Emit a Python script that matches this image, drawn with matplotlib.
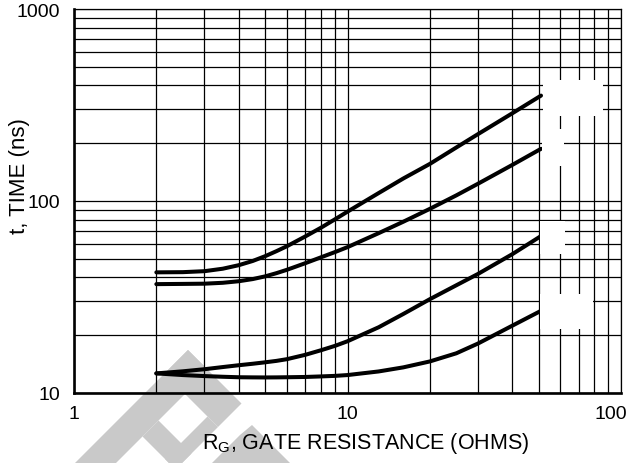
import matplotlib
matplotlib.use("Agg")
import matplotlib.pyplot as plt
from matplotlib.patches import Polygon, Rectangle
from matplotlib.ticker import LogLocator, NullFormatter, FixedLocator, FixedFormatter
import matplotlib.transforms as mtransforms

plt.rcParams['font.family'] = ['Liberation Sans', 'DejaVu Sans']

# gate resistance (ohms)
rg = [2.0, 2.5, 3.0, 3.5, 4.0, 4.5, 5.0, 5.5, 6.0, 7.0, 8.0, 9.0, 10, 13, 16, 20, 25, 30, 40, 51]

# switching times (ns), top to bottom
t_curve1 = [42.5, 42.6, 43.1, 44.4, 46.3, 48.7, 51.6, 54.8, 58.1, 65.3, 72.6, 80.3, 88,
            110, 131, 156, 190, 223, 286, 354]
t_curve2 = [36.9, 37.0, 37.1, 37.5, 38.2, 39.2, 40.5, 42.1, 43.8, 47.4, 50.9, 54.2, 57.5,
            68, 78, 91, 107, 123, 154, 187]
t_curve3 = [12.65, 12.97, 13.3, 13.65, 13.95, 14.2, 14.45, 14.7, 15.0, 15.8, 16.7, 17.6, 18.6,
            22.0, 25.8, 30.8, 36.4, 41.7, 52.8, 65.7]
t_curve4 = [12.65, 12.4, 12.25, 12.15, 12.08, 12.06, 12.05, 12.06, 12.08, 12.12, 12.2, 12.28, 12.4,
            12.95, 13.6, 14.6, 16.1, 18.1, 22.4, 26.8]

x_ticks = [1, 10, 100]
x_tick_labels = ['1', '10', '100']
y_ticks = [10, 100, 1000]
y_tick_labels = ['10', '100', '1000']

W, H = 635, 464
fig = plt.figure(figsize=(W / 100, H / 100), dpi=100)
ax = fig.add_axes([74 / W, (H - 394) / H, 547 / W, 384 / H])
ax.patch.set_facecolor('none')


def px(points):
    # image pixel coords (from top-left) -> figure fraction
    return [(x / W, 1 - y / H) for x, y in points]


# faint watermark behind the chart
wm = '#c9c9c9'
for shape in [
    [(188, 351), (208.5, 371.5), (116, 464), (75, 464)],
    [(188, 351), (241.5, 404.5), (218, 428), (164.5, 374.5)],
    [(207.5, 417.5), (218, 428), (175.5, 470.5), (165, 460)],
    [(158.5, 421.5), (191.5, 454.5), (175.5, 470.5), (142.5, 437.5)],
    [(240, 436), (252, 426), (290, 464), (212, 464)],
]:
    fig.patches.append(Polygon(px(shape), closed=True, transform=fig.transFigure,
                               facecolor=wm, edgecolor='none', zorder=-1))

for y in [t_curve1, t_curve2, t_curve3, t_curve4]:
    ax.plot(rg, y, color='black', lw=2.9, solid_capstyle='round',
            solid_joinstyle='round', zorder=3)

ax.set_xscale('log')
ax.set_yscale('log')
ax.set_xlim(1, 100)
ax.set_ylim(10, 1000)

ax.xaxis.set_major_locator(FixedLocator(x_ticks))
ax.xaxis.set_major_formatter(FixedFormatter(x_tick_labels))
ax.yaxis.set_major_locator(FixedLocator(y_ticks))
ax.yaxis.set_major_formatter(FixedFormatter(y_tick_labels))
for axis in (ax.xaxis, ax.yaxis):
    axis.set_minor_locator(LogLocator(base=10, subs=range(2, 10)))
    axis.set_minor_formatter(NullFormatter())

ax.grid(True, which='both', color='black', lw=0.9, zorder=1)
ax.set_axisbelow(True)
ax.tick_params(which='both', length=0, labelsize=14, colors='black')
ax.tick_params(axis='y', pad=10)
ax.tick_params(axis='x', pad=9)

for side in ['left', 'bottom']:
    ax.spines[side].set_linewidth(1.9)
for side in ['top', 'right']:
    ax.spines[side].set_linewidth(0.9)

# keep the right-most x label inside the picture
lab = ax.get_xticklabels()[-1]
lab.set_transform(lab.get_transform() + mtransforms.ScaledTranslation(-10 / 100, 0, fig.dpi_scale_trans))

ax.set_ylabel('t, TIME (ns)', fontsize=16)
ax.yaxis.set_label_coords(-0.1005, 0.568)
ax.yaxis.label.set_va('center')
ax.set_xlabel('R$_\\mathregular{G}$, GATE RESISTANCE (OHMS)', fontsize=15.5)
ax.xaxis.set_label_coords(0.534, -0.128)
ax.xaxis.label.set_va('center')

# blanked-out curve labels
for x0, y0, x1, y1 in [(543, 81, 603, 117), (542, 130, 564, 167),
                       (540, 222, 565, 255), (540, 295, 593, 330)]:
    fig.patches.append(Rectangle((x0 / W, 1 - y1 / H), (x1 - x0) / W, (y1 - y0) / H,
                                 transform=fig.transFigure, facecolor='white',
                                 edgecolor='none', zorder=5))

fig.savefig('out.png', dpi=100)
